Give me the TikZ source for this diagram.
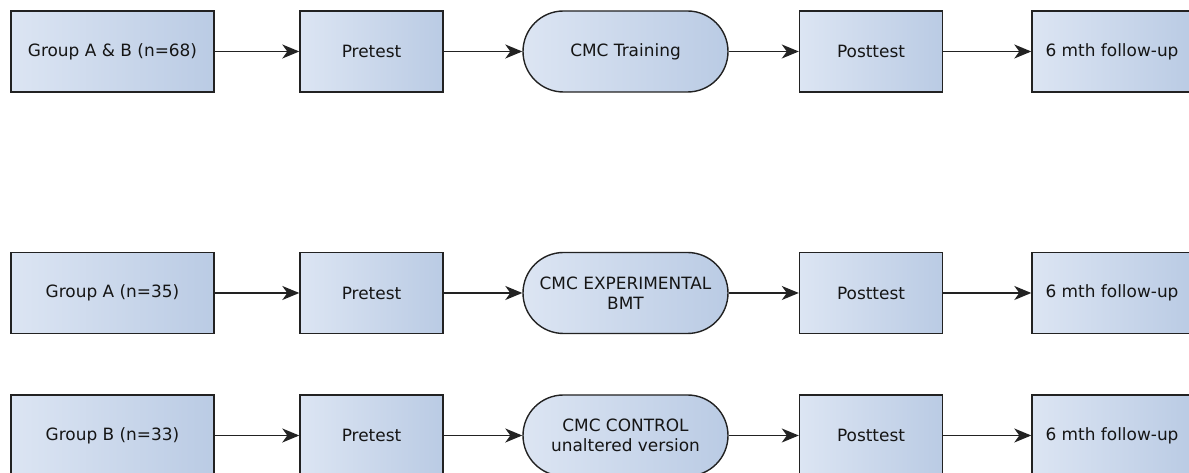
\documentclass[tikz,border=0pt]{standalone}
\usepackage{fontspec}
\setsansfont{DejaVu Sans}
\usepackage{tikz}
\usetikzlibrary{positioning,arrows.meta}
\definecolor{cBoxL}{HTML}{DCE5F3}
\definecolor{cBoxR}{HTML}{BACBE4}
\definecolor{cLine}{HTML}{222222}
\definecolor{cText}{HTML}{151515}

\begin{document}
\begin{tikzpicture}[
  x=1bp,y=1bp,
  font=\sffamily\fontsize{17}{20}\selectfont,
  >={Stealth[length=17bp,width=14bp,inset=5bp]},
  block/.style={draw=cLine,line width=1.4bp,left color=cBoxL,right color=cBoxR,
                text=cText,align=center,minimum height=81bp,inner sep=2bp},
  stagebox/.style={block,minimum width=143bp},
  groupbox/.style={block,minimum width=203bp},
  trainbox/.style={block,minimum width=205bp,rounded corners=40.5bp},
  fupbox/.style={block,minimum width=160bp},
  flow/.style={->,line width=1.5bp,cLine},
]
\useasboundingbox (0,0) rectangle (1189,473);

% one row per study arm: group -> pretest -> CMC -> posttest -> follow-up
\foreach \r/\yy/\grp/\cmc in {
    t/421.5/{Group A \& B (n=68)}/{CMC Training},
    a/180/{Group A (n=35)}/{CMC EXPERIMENTAL\\BMT},
    b/37.5/{Group B (n=33)}/{CMC CONTROL\\unaltered version}} {
  \node[groupbox] (grp\r)  at (112.5,\yy) {\grp};
  \node[stagebox] (pre\r)  at (371.5,\yy) {Pretest};
  \node[trainbox] (cmc\r)  at (625.5,\yy) {\cmc};
  \node[stagebox] (post\r) at (871,\yy)   {Posttest};
  \node[fupbox]   (fup\r)  at (1112,\yy)  {6 mth follow-up};

  \draw[flow] (grp\r.east)  -- (pre\r.west);
  \draw[flow] (pre\r.east)  -- (cmc\r.west);
  \draw[flow] (cmc\r.east)  -- (post\r.west);
  \draw[flow] (post\r.east) -- (fup\r.west);
}

\end{tikzpicture}
\end{document}
